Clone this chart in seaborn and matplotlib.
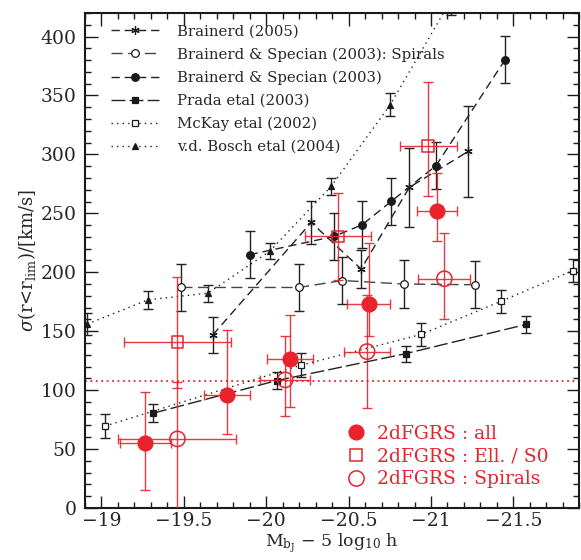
import matplotlib

matplotlib.use("Agg")
import matplotlib.pyplot as plt
import seaborn as sns
from matplotlib.lines import Line2D
from matplotlib.ticker import MultipleLocator

# ---- black literature data (magnitude, sigma, error) ----
b05_mag = [-19.676, -20.273, -20.576, -20.868, -21.226]
b05_sig = [146.9, 242.3, 202.7, 272.0, 302.6]
b05_err = [15.3, 18.0, 16.0, 33.5, 38.8]

bs_sp_mag = [-19.485, -20.198, -20.461, -20.834, -21.268]
bs_sp_sig = [187.1, 187.1, 193.0, 190.0, 189.4]
bs_sp_err = [20.0, 20.0, 20.0, 20.0, 20.0]

bs_mag = [-19.899, -20.410, -20.582, -20.758, -21.030, -21.450]
bs_sig = [214.9, 230.4, 240.3, 260.1, 290.4, 380.5]
bs_err = [20.0, 20.0, 20.0, 20.0, 20.0, 20.0]

prada_mag = [-19.313, -20.064, -20.848, -21.576]
prada_sig = [80.4, 108.1, 131.0, 155.7]
prada_err = [7.6, 7.0, 6.8, 7.4]

mckay_mag = [-19.020, -20.212, -20.939, -21.422, -21.862]
mckay_sig = [69.4, 121.2, 147.2, 175.2, 201.5]
mckay_err = [10.0, 10.0, 10.0, 10.0, 10.0]

bosch_mag = [-18.913, -19.282, -19.646, -20.020, -20.394, -20.753, -21.121]
bosch_sig = [156.0, 176.6, 182.3, 217.7, 272.9, 342.3, 431.0]
bosch_err = [9.5, 7.5, 7.2, 6.8, 7.0, 9.5, 12.3]

# ---- 2dFGRS (red) ----
all_mag = [-19.267, -19.761, -20.145, -20.622, -21.034]
all_sig = [55.5, 96.0, 126.5, 173.2, 252.2]
all_xerr = [0.157, 0.138, 0.141, 0.131, 0.121]
all_lo = [40.2, 33.4, 40.5, 27.2, 26.0]
all_hi = [43.3, 55.2, 37.4, 51.5, 32.0]

ell_mag = [-19.461, -20.434, -20.984]
ell_sig = [140.7, 230.4, 306.8]
ell_xerr = [0.323, 0.200, 0.172]
ell_lo = [39.0, 36.8, 41.9]
ell_hi = [55.7, 36.8, 54.4]

spi_mag = [-19.461, -20.115, -20.612, -21.081]
spi_sig = [58.6, 108.7, 132.7, 194.5]
spi_xerr = [0.358, 0.150, 0.141, 0.157]
spi_lo = [60.0, 30.3, 48.0, 34.2]
spi_hi = [48.7, 37.4, 48.0, 38.8]

sigma_lim = 108.0

xtick_vals = [-19, -19.5, -20, -20.5, -21, -21.5]
xtick_labels = ["\u221219", "\u221219.5", "\u221220", "\u221220.5", "\u221221", "\u221221.5"]

RED = "#e8232b"

sns.set_theme(style="ticks")
plt.rcParams["font.family"] = ["DejaVu Serif"]
plt.rcParams["mathtext.fontset"] = "dejavuserif"

fig = plt.figure(figsize=(5.81, 5.60), dpi=100)
ax = fig.add_axes([0.1463, 0.0929, 0.8508, 0.8839])

black_series = [
    ("Brainerd (2005)", b05_mag, b05_sig, b05_err, (6, 2, 0), "k", (0, (6, 3.5)), 6, "#222222"),
    ("Brainerd & Specian (2003): Spirals", bs_sp_mag, bs_sp_sig, bs_sp_err, "o", "white", (0, (8, 4)), 5.5, "#444444"),
    ("Brainerd & Specian (2003)", bs_mag, bs_sig, bs_err, "o", "k", (0, (6, 3.5)), 5.5, "#222222"),
    ("Prada etal (2003)", prada_mag, prada_sig, prada_err, "s", "k", (0, (10, 3)), 5, "#222222"),
    ("McKay etal (2002)", mckay_mag, mckay_sig, mckay_err, "s", "white", (0, (1, 3)), 4.5, "#222222"),
    ("v.d. Bosch etal (2004)", bosch_mag, bosch_sig, bosch_err, "^", "k", (0, (1, 3)), 5, "#222222"),
]

handles = []
for label, mag, sig, err, mk, fc, ls, ms, lc in black_series:
    sns.lineplot(
        x=mag, y=sig, ax=ax, sort=False, errorbar=None, color=lc,
        linestyle=ls, linewidth=1.0, marker=mk, markersize=ms,
        markerfacecolor=fc, markeredgecolor="k", markeredgewidth=0.9,
        zorder=3,
    )
    ax.errorbar(mag, sig, yerr=err, fmt="none", ecolor="#222222",
                elinewidth=1.0, capsize=3.5, capthick=1.0, zorder=2)
    handles.append(Line2D([], [], color=lc, linestyle=ls, linewidth=1.0,
                          marker=mk, markersize=ms, markerfacecolor=fc,
                          markeredgecolor="k", markeredgewidth=0.9, label=label))

# 2dFGRS points
red_series = [
    ("2dFGRS : all", all_mag, all_sig, all_xerr, all_lo, all_hi, "o", RED, 10.5),
    ("2dFGRS : Ell. / S0", ell_mag, ell_sig, ell_xerr, ell_lo, ell_hi, "s", "none", 8.5),
    ("2dFGRS : Spirals", spi_mag, spi_sig, spi_xerr, spi_lo, spi_hi, "o", "none", 11),
]
red_handles = []
for label, mag, sig, xerr, lo, hi, mk, fc, ms in red_series:
    ax.errorbar(mag, sig, xerr=xerr, yerr=[lo, hi], fmt="none", ecolor=RED,
                elinewidth=1.0, capsize=3.5, capthick=1.0, zorder=4, alpha=0.9)
    sns.scatterplot(x=mag, y=sig, ax=ax, marker=mk, s=ms ** 2,
                    facecolor=fc, edgecolor=RED, linewidth=1.1, zorder=5)
    red_handles.append(Line2D([], [], linestyle="none", marker=mk, markersize=ms,
                              markerfacecolor=fc, markeredgecolor=RED,
                              markeredgewidth=1.1, label=label))

ax.axhline(sigma_lim, color=RED, linestyle=(0, (1, 2)), linewidth=1.3, zorder=1)

ax.set_xlim(-18.9, -21.9)
ax.set_ylim(0, 420)
ax.xaxis.set_minor_locator(MultipleLocator(0.1))
ax.yaxis.set_major_locator(MultipleLocator(50))
ax.yaxis.set_minor_locator(MultipleLocator(10))
ax.set_xticks(xtick_vals)
ax.set_xticklabels(xtick_labels)
ax.tick_params(which="both", direction="in", top=True, right=True, labelsize=13.5,
               width=1.0, color="k")
ax.tick_params(which="major", length=9)
ax.tick_params(axis="y", which="major", pad=6)
ax.tick_params(axis="x", which="major", pad=3)
ax.tick_params(which="minor", length=4.5)
for s in ax.spines.values():
    s.set_linewidth(1.5)
    s.set_color("k")

ax.set_xlabel(r"M$_{\rm b_J}$ $-$ 5 log$_{10}$ h", fontsize=12.5, labelpad=1)
ax.set_ylabel(r"$\sigma$(r<r$_{\rm lim}$)/[km/s]", fontsize=13, labelpad=2)

leg1 = ax.legend(handles=handles, loc="upper left", bbox_to_anchor=(0.035, 0.995),
                 frameon=False, fontsize=10.7, handlelength=3.2, handletextpad=1.2,
                 labelspacing=0.6, borderaxespad=0.2)
ax.add_artist(leg1)
leg2 = ax.legend(handles=red_handles, loc="lower left", bbox_to_anchor=(0.515, 0.025),
                 frameon=False, fontsize=13.5, handlelength=1.0, handletextpad=0.6,
                 labelspacing=0.25, borderaxespad=0.0)
for t in leg2.get_texts():
    t.set_color(RED)

fig.savefig("out.png", dpi=100)
